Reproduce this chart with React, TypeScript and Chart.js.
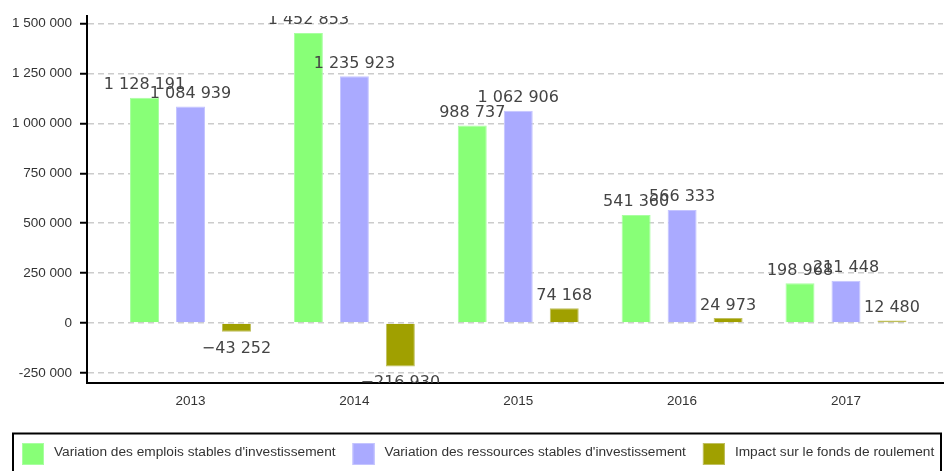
import React, { useEffect, useRef } from "react";
import { Chart, registerables } from "chart.js";

Chart.register(...registerables);

const years = ["2013", "2014", "2015", "2016", "2017"];
const emplois = [1128191, 1452853, 988737, 541360, 198968];
const ressources = [1084939, 1235923, 1062906, 566333, 211448];
const impact = [-43252, -216930, 74168, 24973, 12480];
const yTicks = [-250000, 0, 250000, 500000, 750000, 1000000, 1250000, 1500000];
const seriesNames = [
  "Variation des emplois stables d'investissement",
  "Variation des ressources stables d'investissement",
  "Impact sur le fonds de roulement",
];

const group = (v: number) =>
  Math.abs(Math.round(v)).toString().replace(/\B(?=(\d{3})+(?!\d))/g, " ");
const fmtLabel = (v: number) => (v < 0 ? "\u2212" : "") + group(v);
const fmtTick = (v: number) => (v < 0 ? "-" : "") + group(v);

const SANS = "'Liberation Sans', Arial, sans-serif";

const dataLabels = {
  id: "dataLabels",
  afterDatasetsDraw(chart: any) {
    const { ctx, chartArea } = chart;
    ctx.save();
    ctx.beginPath();
    ctx.rect(chartArea.left, chartArea.top, chartArea.right - chartArea.left, chartArea.bottom - chartArea.top);
    ctx.clip();
    ctx.font = "16px 'DejaVu Sans', sans-serif";
    ctx.fillStyle = "#444";
    ctx.textAlign = "center";
    ctx.textBaseline = "alphabetic";
    chart.data.datasets.forEach((ds: any, di: number) => {
      const meta = chart.getDatasetMeta(di);
      meta.data.forEach((el: any, i: number) => {
        const v = ds.data[i].y;
        const y = v >= 0 ? el.y - 8.5 : el.y + 21;
        ctx.fillText(fmtLabel(v), el.x, y);
      });
    });
    ctx.restore();
  },
};

// Legend drawn inside a bordered box below the x axis
const boxedLegend = {
  id: "boxedLegend",
  afterDraw(chart: any) {
    const { ctx, chartArea } = chart;
    const frameTop = chartArea.bottom + 50.5;
    ctx.save();
    ctx.strokeStyle = "#000";
    ctx.lineWidth = 2;
    ctx.strokeRect(13, frameTop, 928, 100);
    ctx.font = `13.7px ${SANS}`;
    ctx.textBaseline = "middle";
    ctx.textAlign = "left";
    let x = 22;
    const boxTop = frameTop + 9.5;
    chart.data.datasets.forEach((ds: any) => {
      ctx.fillStyle = ds.backgroundColor;
      ctx.fillRect(x, boxTop, 22, 22);
      ctx.strokeStyle = ds.borderColor;
      ctx.lineWidth = 1;
      ctx.strokeRect(x + 0.5, boxTop + 0.5, 21, 21);
      ctx.fillStyle = "#333";
      const tx = x + 32;
      ctx.fillText(ds.label, tx, boxTop + 9.5);
      x = tx + ctx.measureText(ds.label).width + 17;
    });
    ctx.restore();
  },
};

export default function App() {
  const ref = useRef<HTMLCanvasElement>(null);
  useEffect(() => {
    if (!ref.current) return;
    const mk = (arr: number[]) => arr.map((y, i) => ({ x: i, y }));
    const chart = new Chart(ref.current, {
      type: "bar",
      data: {
        datasets: [
          { label: seriesNames[0], data: mk(emplois), backgroundColor: "#88ff77", borderColor: "#a8ffa0", borderWidth: 1 },
          { label: seriesNames[1], data: mk(ressources), backgroundColor: "#aaaaff", borderColor: "#c4c4ff", borderWidth: 1 },
          { label: seriesNames[2], data: mk(impact), backgroundColor: "#a0a000", borderColor: "#c0c060", borderWidth: 1 },
        ],
      } as any,
      options: {
        responsive: false,
        animation: false,
        events: [],
        layout: { padding: { top: 13, left: 0, right: 1, bottom: 50 } },
        datasets: { bar: { categoryPercentage: 0.842, barPercentage: 0.63 } },
        plugins: {
          tooltip: { enabled: false },
          legend: { display: false },
        },
        scales: {
          x: {
            type: "linear",
            offset: false,
            min: -0.6316,
            max: 4.592,
            afterFit: (s: any) => {
              s.height = 38;
            },
            grid: { display: false, drawTicks: false, offset: false },
            border: { display: true, color: "#000", width: 2 },
            ticks: {
              stepSize: 1,
              includeBounds: false,
              padding: 10,
              color: "#333",
              font: { family: SANS, size: 13.5 },
              callback: (v: any) => years[v] ?? "",
            },
          },
          y: {
            min: -300000,
            max: 1537000,
            afterFit: (s: any) => {
              s.width = 87;
            },
            afterBuildTicks: (s: any) => {
              s.ticks = yTicks.map((value) => ({ value }));
            },
            grid: {
              color: "#cccccc",
              lineWidth: 1.5,
              tickColor: "#000",
              tickWidth: 2,
              tickLength: 7,
            },
            border: { display: true, color: "#000", width: 2, dash: [6, 4] },
            ticks: {
              padding: 8,
              color: "#333",
              font: { family: SANS, size: 13.5 },
              callback: (v: any) => fmtTick(Number(v)),
            },
          },
        },
      } as any,
      plugins: [dataLabels, boxedLegend],
    });
    return () => chart.destroy();
  }, []);
  return (
    <div style={{ position: "fixed", left: 0, top: 0, width: 944, height: 471, overflow: "hidden", background: "#fff" }}>
      <canvas ref={ref} width={944} height={471} style={{ display: "block" }} />
    </div>
  );
}
